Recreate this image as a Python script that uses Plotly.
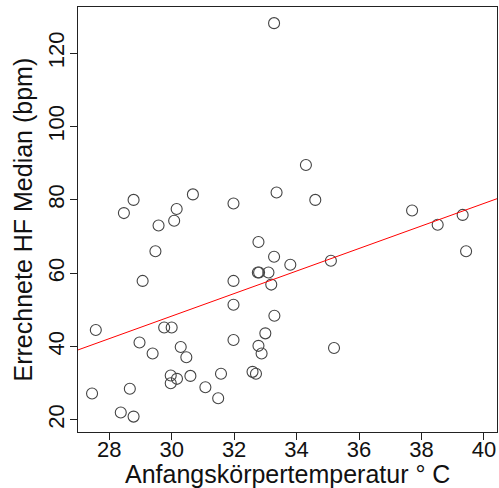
import numpy as np
import plotly.graph_objects as go

temp = [33.28, 28.47, 28.78, 29.58, 30.08, 30.16, 30.68, 31.98, 33.36, 34.30,
        34.60, 37.70, 38.52, 39.32, 29.48, 29.07, 27.57, 27.45, 28.37, 28.78,
        28.66, 28.97, 29.39, 29.76, 30.00, 30.29, 30.47, 29.97, 29.97, 30.17,
        30.60, 31.08, 31.49, 31.58, 31.98, 31.98, 31.98, 32.78, 32.76, 32.80,
        33.10, 33.28, 33.19, 33.29, 33.00, 32.78, 32.88, 32.59, 32.70, 33.80,
        35.10, 35.20, 39.43]
hf = [128.2, 76.4, 80.0, 73.0, 74.3, 77.5, 81.5, 79.0, 82.0, 89.5,
      80.0, 77.1, 73.2, 75.9, 66.0, 57.9, 44.5, 27.2, 22.0, 20.9,
      28.5, 41.1, 38.1, 45.2, 45.2, 39.9, 37.1, 32.1, 30.0, 31.2,
      32.0, 28.9, 25.9, 32.6, 57.9, 51.4, 41.8, 68.5, 60.2, 60.2,
      60.2, 64.5, 56.9, 48.4, 43.6, 40.2, 38.1, 33.1, 32.6, 62.3,
      63.4, 39.6, 66.0]
x_ticks = [28, 30, 32, 34, 36, 38, 40]
y_ticks = [20, 40, 60, 80, 100, 120]
x_range = [27.0, 40.42]
y_range = [16.7, 132.6]
x_title = "Anfangskörpertemperatur ° C"
y_title = "Errechnete HF Median (bpm)"

slope, intercept = np.polyfit(temp, hf, 1)
line_x = np.array(x_range)
line_y = intercept + slope * line_x

fig = go.Figure()
fig.add_trace(go.Scatter(
    x=temp, y=hf, mode="markers",
    marker=dict(symbol="circle-open", size=11, color="#444444", line=dict(width=1.1)),
    hoverinfo="skip", showlegend=False))
fig.add_trace(go.Scatter(
    x=line_x, y=line_y, mode="lines",
    line=dict(color="#ff0000", width=1),
    hoverinfo="skip", showlegend=False))

font_fam = "Liberation Sans, Arial, sans-serif"
fig.update_layout(
    width=499, height=488,
    margin=dict(l=78, r=2, t=7, b=56),
    paper_bgcolor="white", plot_bgcolor="white",
    font=dict(family=font_fam, color="#111"),
    xaxis=dict(range=x_range, tickvals=x_ticks, showgrid=False, zeroline=False,
               showline=True, linecolor="#222", linewidth=1, mirror=True,
               ticks="outside", ticklen=7, tickcolor="#222", automargin=False,
               ticklabelstandoff=-9,
               tickfont=dict(size=22, family=font_fam)),
    yaxis=dict(range=y_range, tickvals=y_ticks, showgrid=False, zeroline=False,
               showline=True, linecolor="#222", linewidth=1, mirror=True,
               ticks="outside", ticklen=7, tickcolor="#222", tickangle=-90, automargin=False,
               ticklabelstandoff=-3,
               tickfont=dict(size=22, family=font_fam)),
    annotations=[
        dict(text=x_title, xref="paper", yref="paper", x=0.5, y=0,
             xanchor="center", yanchor="middle", yshift=-42, showarrow=False,
             font=dict(size=25, family=font_fam, color="#111")),
        dict(text=y_title, xref="paper", yref="paper", x=0, y=0.5,
             xanchor="center", yanchor="middle", xshift=-56, textangle=-90,
             showarrow=False, font=dict(size=25, family=font_fam, color="#111")),
    ],
)
fig.write_html("out.html", config={"displayModeBar": False},
               post_script="document.body.style.margin='0';")
